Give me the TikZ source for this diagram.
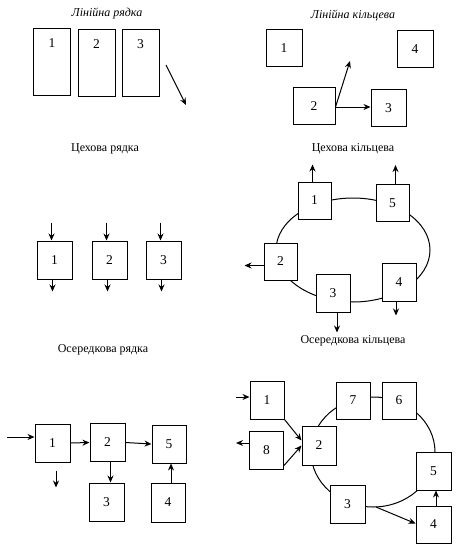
\documentclass[tikz,border=0pt]{standalone}
\usepackage{fontspec}
\setmainfont{Liberation Serif}
\usetikzlibrary{arrows.meta,positioning,calc}

\begin{document}
\begin{tikzpicture}[
  x=1pt, y=-1pt,
  font=\fontsize{13.5}{15}\selectfont,
  ttl/.style={font=\fontsize{12}{14}\selectfont},
  itl/.style={font=\fontsize{12}{14}\selectfont\itshape},
  blk/.style={draw, line width=1pt, fill=white, minimum width=34pt,
              minimum height=37pt, inner sep=1pt},
  tall/.style={draw, line width=1pt, minimum width=37pt, minimum height=67pt,
               label={[anchor=center, yshift=-16pt]north:#1}},
  arr/.style={-{Stealth[length=7pt,width=6pt]}, line width=1pt},
  ring/.style={line width=1pt}
]
\useasboundingbox (0,0) rectangle (466,546);
% ---------------- linear, row ----------------
\node[itl] (t1) at (107,14) {Лінійна рядка};
\node[tall=1] (a1) at (52,61.5) {};
\node[tall=2] (a2) at (96.5,62.5) {};
\node[tall=3] (a3) at (140.5,62.5) {};
\coordinate (a0) at (166,65);
\coordinate (aout) at (186,105);
\draw[arr] (a0) -- (aout);
% ---------------- linear, ring ----------------
\node[itl] (t2) at (353,15) {Лінійна кільцева};
\node[blk, minimum width=36pt] (b1) at (284,48) {1};
\node[blk, minimum width=36pt] (b4) at (415,49) {4};
\node[blk, minimum width=42pt] (b2) at (314,106) {2};
\node[blk, minimum width=35pt] (b3) at (388.5,108) {3};
\coordinate (bup) at (350,61);
\draw[arr] ([yshift=-1pt]b2.east) -- (bup);
\draw[arr] ([yshift=-1pt]b2.east) -- ([yshift=-1pt]b2.east -| b3.west);
% ---------------- shop, row ----------------
\node[ttl] (t3) at (105,149) {Цехова рядка};
\foreach \i/\x in {1/54.5, 2/109.5, 3/163.5} {
  \node[blk, minimum width=35pt, minimum height=38pt] (c\i) at (\x,260) {\i};
  \draw[arr] ($(c\i.north)+(-3,-18)$) -- ([xshift=-3pt]c\i.north);
  \draw[arr] ([xshift=-2pt]c\i.south) -- ++(0,12);
}
% ---------------- shop, ring ----------------
\node[ttl] (t4) at (353,149) {Цехова кільцева};
\draw[ring] (353,250) ellipse [x radius=77, y radius=52];
\node[blk, minimum width=33pt] (d1) at (314.5,200.5) {1};
\node[blk, minimum width=33pt] (d5) at (392.5,203) {5};
\node[blk, minimum width=33pt] (d2) at (280.5,261.5) {2};
\node[blk, minimum width=34pt, minimum height=38pt] (d3) at (333,293) {3};
\node[blk, minimum width=34pt, minimum height=38pt] (d4) at (399,282) {4};
\draw[arr] ([xshift=-2pt]d1.north) -- ++(0,-17);
\draw[arr] ([xshift=3pt]d5.north) -- ++(0,-19);
\draw[arr] ([yshift=-4pt]d2.west) -- ++(-19,0);
\draw[arr] ([xshift=4pt]d3.south) -- ++(0,20);
\draw[arr] ([xshift=-3pt]d4.south) -- ++(0,14);
% ---------------- cell, row ----------------
\node[ttl] (t5) at (103,350) {Осередкова рядка};
\node[blk, minimum width=35pt, minimum height=38pt] (e1) at (52.5,443) {1};
\node[blk, minimum width=35pt, minimum height=38pt] (e2) at (107.5,442.5) {2};
\node[blk, minimum width=34pt, minimum height=38pt] (e5) at (169,444) {5};
\node[blk, minimum width=35pt, minimum height=38pt] (e3) at (106.5,502) {3};
\node[blk, minimum width=34pt, minimum height=39pt] (e4) at (168,502.5) {4};
\coordinate (ein) at (7,437);
\draw[arr] (ein) -- (ein -| e1.west);
\draw[arr] (e1.east) -- (e2.west);
\draw[arr] (e2.east) -- (e5.west);
\draw[arr] ($(e1.south)+(3.5,8)$) -- ++(0,17);
\draw[arr] ([xshift=3pt]e2.south) -- ([xshift=3pt]e2.south |- e3.north);
\draw[arr] ([xshift=3pt]e4.north) -- ([xshift=3pt]e4.north |- e5.south);
% ---------------- cell, ring ----------------
\node[ttl] (t6) at (353,341) {Осередкова кільцева};
\draw[ring] (373,452) ellipse [x radius=62, y radius=55];
\node[blk, minimum height=38pt] (f1) at (267,400) {1};
\node[blk, minimum height=38pt] (f8) at (266.5,450) {8};
\node[blk, minimum height=39pt] (f2) at (319,445.5) {2};
\node[blk, minimum height=37pt] (f7) at (353,400.5) {7};
\node[blk, minimum height=37pt] (f6) at (399,400.5) {6};
\node[blk, minimum width=35pt, minimum height=38pt] (f5) at (433.5,471) {5};
\node[blk, minimum width=35pt, minimum height=38pt] (f3) at (347.5,504) {3};
\node[blk, minimum width=35pt, minimum height=37pt] (f4) at (433.5,524.5) {4};
\coordinate (fin) at (236,397);
\draw[arr] (fin) -- (fin -| f1.west);
\draw[arr] ([yshift=7pt]f8.west) -- ++(-13,0);
\draw[arr] (f1.south east) -- ([yshift=5pt]f2.west);
\draw[arr] ([yshift=4pt]f8.south east) -- (f2.west);
\coordinate (fbr) at (376,507);
\draw[arr] (fbr) -- ([yshift=1pt]f4.west);
\draw[arr] ([xshift=2.5pt]f4.north) -- ([xshift=2.5pt]f4.north |- f5.south);
\end{tikzpicture}
\end{document}
